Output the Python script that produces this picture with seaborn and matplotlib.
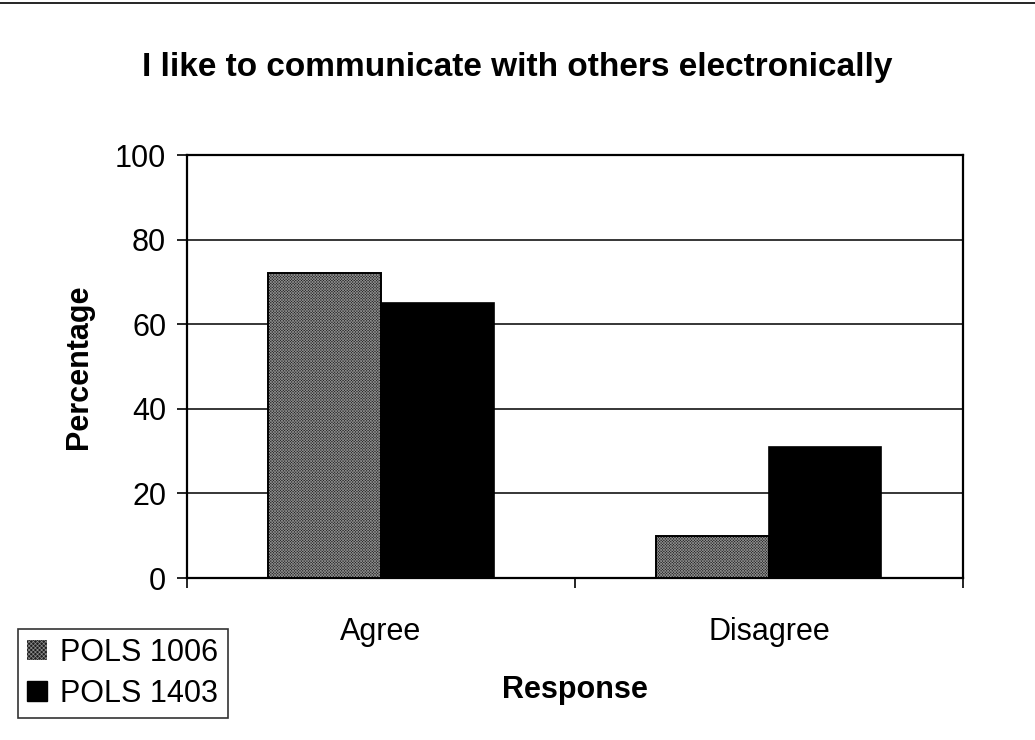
import matplotlib
matplotlib.use("Agg")
import matplotlib.pyplot as plt
from matplotlib.patches import Rectangle, Patch
from matplotlib.lines import Line2D
import seaborn as sns
import pandas as pd

# Survey responses (% of each class)
responses = ["Agree", "Disagree"]
courses = ["POLS 1006", "POLS 1403"]
pols_1006 = [72, 10]
pols_1403 = [65, 31]
y_ticks = [0, 20, 40, 60, 80, 100]

df = pd.DataFrame({
    "Response": responses * 2,
    "Course": [courses[0]] * 2 + [courses[1]] * 2,
    "Percentage": pols_1006 + pols_1403,
})

sns.set_theme(style="white")
plt.rcParams["font.family"] = ["Liberation Sans", "DejaVu Sans"]
plt.rcParams["hatch.linewidth"] = 0.5
for key in ["text.color", "axes.labelcolor", "xtick.color", "ytick.color"]:
    plt.rcParams[key] = "black"

STIPPLE_FACE = "#1e1e1e"
STIPPLE_DOTS = "#8c8c8c"
STIPPLE = "xxxxxxxxxxxx"

fig = plt.figure(figsize=(10.35, 7.4), dpi=100)
ax = fig.add_axes([0.1807, 0.2189, 0.7497, 0.5716])

palette = {courses[0]: STIPPLE_FACE, courses[1]: "#000000"}
sns.barplot(data=df, x="Response", y="Percentage", hue="Course",
            order=responses, hue_order=courses, palette=palette,
            width=0.58, saturation=1, ax=ax, legend=False, zorder=3)

# stippled fill for the first course, solid for the second
for patch in ax.containers[0]:
    patch.set_hatch(STIPPLE)
    patch.set_edgecolor(STIPPLE_DOTS)
    patch.set_linewidth(0)
    ax.add_patch(Rectangle(patch.get_xy(), patch.get_width(), patch.get_height(),
                           fill=False, edgecolor="black", linewidth=1.4, zorder=4))
for patch in ax.containers[1]:
    patch.set_edgecolor("black")
    patch.set_linewidth(1.2)

ax.set_ylim(0, 100)
ax.set_xlim(-0.5, 1.5)
ax.set_yticks(y_ticks)
ax.yaxis.grid(True, color="black", linewidth=1.1, zorder=0)
ax.set_axisbelow(True)
for side in ["left", "right", "top", "bottom"]:
    ax.spines[side].set_visible(True)
    ax.spines[side].set_color("black")
    ax.spines[side].set_linewidth(1.6)

ax.tick_params(axis="y", which="major", direction="out", length=7, width=1.2,
               color="black", pad=8, labelsize=22, left=True)
ax.tick_params(axis="x", which="major", length=0, pad=28, labelsize=22)
ax.set_xticks([-0.5, 0.5, 1.5], minor=True)
ax.tick_params(axis="x", which="minor", direction="out", length=7, width=1.2,
               color="black", bottom=True)

ax.set_ylabel("Percentage", fontsize=22, fontweight="bold", labelpad=15)
ax.set_xlabel("Response", fontsize=22, fontweight="bold", labelpad=20)
fig.suptitle("I like to communicate with others electronically",
             fontsize=24, fontweight="bold", y=0.93)

handles = [
    Patch(facecolor=STIPPLE_FACE, edgecolor=STIPPLE_DOTS, hatch="xxxxxxxx", linewidth=0),
    Patch(facecolor="black", edgecolor="black"),
]
leg = ax.legend(handles, courses, loc="lower left",
                bbox_to_anchor=(0.017, 0.03), bbox_transform=fig.transFigure,
                fontsize=22, frameon=True, fancybox=False, handlelength=0.65,
                handleheight=0.65, handletextpad=0.45, borderpad=0.3,
                labelspacing=0.35, borderaxespad=0)
leg.get_frame().set_edgecolor("black")
leg.get_frame().set_linewidth(1.2)

# outer frame line along the top of the page
fig.add_artist(Line2D([0.0, 1.0], [0.996, 0.996], transform=fig.transFigure,
                      color="black", linewidth=1.2))

fig.savefig("out.png", dpi=100)
